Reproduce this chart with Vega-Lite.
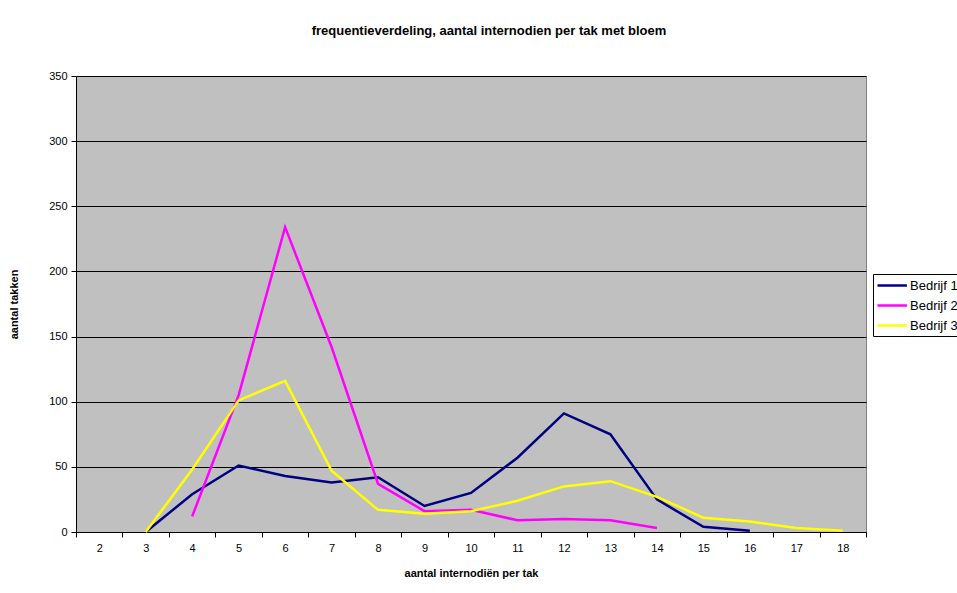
{
  "$schema": "https://vega.github.io/schema/vega-lite/v6.json",
  "width": 790,
  "height": 456,
  "autosize": {"type": "none"},
  "padding": {"left": 76, "top": 76, "right": 91, "bottom": 61},
  "background": "white",
  "title": {
    "text": "frequentieverdeling, aantal internodien per tak met bloem",
    "anchor": "middle",
    "frame": "group",
    "dx": 18,
    "offset": 32,
    "font": "Liberation Sans",
    "fontSize": 13,
    "fontWeight": "bold",
    "color": "black"
  },
  "data": {
    "values": [
      {"n": 3, "bedrijf": "Bedrijf 1", "takken": 0},
      {"n": 4, "bedrijf": "Bedrijf 1", "takken": 29},
      {"n": 5, "bedrijf": "Bedrijf 1", "takken": 51},
      {"n": 6, "bedrijf": "Bedrijf 1", "takken": 43},
      {"n": 7, "bedrijf": "Bedrijf 1", "takken": 38},
      {"n": 8, "bedrijf": "Bedrijf 1", "takken": 42},
      {"n": 9, "bedrijf": "Bedrijf 1", "takken": 20},
      {"n": 10, "bedrijf": "Bedrijf 1", "takken": 30},
      {"n": 11, "bedrijf": "Bedrijf 1", "takken": 57},
      {"n": 12, "bedrijf": "Bedrijf 1", "takken": 91},
      {"n": 13, "bedrijf": "Bedrijf 1", "takken": 75},
      {"n": 14, "bedrijf": "Bedrijf 1", "takken": 25},
      {"n": 15, "bedrijf": "Bedrijf 1", "takken": 4},
      {"n": 16, "bedrijf": "Bedrijf 1", "takken": 1},
      {"n": 4, "bedrijf": "Bedrijf 2", "takken": 12},
      {"n": 5, "bedrijf": "Bedrijf 2", "takken": 105},
      {"n": 6, "bedrijf": "Bedrijf 2", "takken": 234},
      {"n": 7, "bedrijf": "Bedrijf 2", "takken": 142},
      {"n": 8, "bedrijf": "Bedrijf 2", "takken": 37},
      {"n": 9, "bedrijf": "Bedrijf 2", "takken": 16},
      {"n": 10, "bedrijf": "Bedrijf 2", "takken": 17},
      {"n": 11, "bedrijf": "Bedrijf 2", "takken": 9},
      {"n": 12, "bedrijf": "Bedrijf 2", "takken": 10},
      {"n": 13, "bedrijf": "Bedrijf 2", "takken": 9},
      {"n": 14, "bedrijf": "Bedrijf 2", "takken": 3},
      {"n": 3, "bedrijf": "Bedrijf 3", "takken": 0},
      {"n": 4, "bedrijf": "Bedrijf 3", "takken": 48},
      {"n": 5, "bedrijf": "Bedrijf 3", "takken": 101},
      {"n": 6, "bedrijf": "Bedrijf 3", "takken": 116},
      {"n": 7, "bedrijf": "Bedrijf 3", "takken": 47},
      {"n": 8, "bedrijf": "Bedrijf 3", "takken": 17},
      {"n": 9, "bedrijf": "Bedrijf 3", "takken": 14},
      {"n": 10, "bedrijf": "Bedrijf 3", "takken": 16},
      {"n": 11, "bedrijf": "Bedrijf 3", "takken": 24},
      {"n": 12, "bedrijf": "Bedrijf 3", "takken": 35},
      {"n": 13, "bedrijf": "Bedrijf 3", "takken": 39},
      {"n": 14, "bedrijf": "Bedrijf 3", "takken": 27},
      {"n": 15, "bedrijf": "Bedrijf 3", "takken": 11},
      {"n": 16, "bedrijf": "Bedrijf 3", "takken": 8},
      {"n": 17, "bedrijf": "Bedrijf 3", "takken": 3},
      {"n": 18, "bedrijf": "Bedrijf 3", "takken": 1}
    ]
  },
  "mark": {"type": "line", "strokeWidth": 2.5, "strokeJoin": "miter"},
  "encoding": {
    "x": {
      "field": "n",
      "type": "ordinal",
      "scale": {
        "domain": [2, 3, 4, 5, 6, 7, 8, 9, 10, 11, 12, 13, 14, 15, 16, 17, 18],
        "paddingInner": 0,
        "paddingOuter": 0
      },
      "axis": {
        "title": "aantal internodiën per tak",
        "labelAngle": 0,
        "tickBand": "extent",
        "tickSize": 5,
        "tickColor": "black",
        "domainColor": "black",
        "labelPadding": 5,
        "titlePadding": 14,
        "grid": false
      }
    },
    "y": {
      "field": "takken",
      "type": "quantitative",
      "scale": {"domain": [0, 350], "nice": false},
      "axis": {
        "title": "aantal takken",
        "values": [0, 50, 100, 150, 200, 250, 300, 350],
        "tickSize": 5,
        "tickColor": "black",
        "domainColor": "black",
        "gridColor": "black",
        "gridOpacity": 1,
        "gridWidth": 1,
        "labelPadding": 4,
        "titlePadding": 29
      }
    },
    "color": {
      "field": "bedrijf",
      "type": "nominal",
      "scale": {
        "domain": ["Bedrijf 1", "Bedrijf 2", "Bedrijf 3"],
        "range": ["#000080", "#FF00FF", "#FFFF00"]
      },
      "legend": {
        "title": null,
        "orient": "none",
        "legendX": 797,
        "legendY": 198,
        "symbolType": "M-1,0H3.2",
        "symbolSize": 196,
        "symbolStrokeWidth": 2.5,
        "symbolFillColor": "transparent",
        "strokeColor": "black",
        "fillColor": "white",
        "padding": 3,
        "rowPadding": 4,
        "labelFont": "Liberation Sans",
        "labelFontSize": 13,
        "labelColor": "black",
        "labelOffset": 17
      }
    }
  },
  "config": {
    "view": {"fill": "#C0C0C0", "stroke": "#808080", "strokeWidth": 1},
    "axis": {
      "labelFont": "Liberation Sans",
      "labelFontSize": 11,
      "labelColor": "black",
      "titleFont": "Liberation Sans",
      "titleFontSize": 11,
      "titleFontWeight": "bold",
      "titleColor": "black",
      "domainWidth": 1,
      "tickWidth": 1
    }
  }
}
